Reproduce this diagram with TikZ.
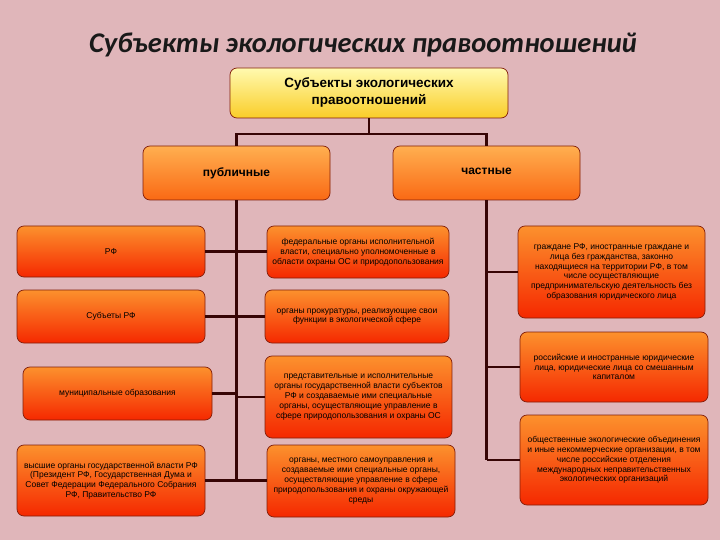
\documentclass[tikz,border=0pt]{standalone}
\usepackage{fontspec}
\setmainfont{Liberation Sans}
\newfontfamily\titlefont{Carlito}
\definecolor{bg}{RGB}{224,182,186}
\definecolor{lnc}{RGB}{55,5,5}
\definecolor{brd}{RGB}{130,30,10}
\definecolor{otop}{RGB}{252,145,45}
\definecolor{obot}{RGB}{245,40,0}
\definecolor{ptop}{RGB}{255,175,80}
\definecolor{pbot}{RGB}{250,105,20}
\definecolor{ytop}{RGB}{255,250,175}
\definecolor{ybot}{RGB}{250,205,40}
\tikzset{
  box/.style={draw=brd, line width=0.7pt, rounded corners=7pt, top color=otop, bottom color=obot,
    inner sep=0pt, align=center, font=\fontsize{8.5}{9.8}\selectfont, text=black},
  pbox/.style={box, top color=ptop, bottom color=pbot, font=\bfseries\fontsize{12}{15}\selectfont},
  ybox/.style={box, top color=ytop, bottom color=ybot, font=\bfseries\fontsize{13.5}{17}\selectfont},
  lnk/.style={draw=lnc, line width=2.2pt}
}
\begin{document}
\begin{tikzpicture}[x=1pt,y=-1pt]
\fill[bg] (0,0) rectangle (720,540);
\useasboundingbox (0,0) rectangle (720,540);
\node[font=\titlefont\bfseries\itshape\fontsize{28.5}{30}\selectfont, text=black!90] (title) at (363,45) {Субъекты экологических правоотношений};

\coordinate (hub) at (369,134);
\node[ybox, minimum width=278pt, minimum height=50pt] (top) at (369,93) {\raisebox{-2pt}{\begin{tabular}{@{}c@{}}Субъекты экологических\\правоотношений\end{tabular}}};
\node[pbox, minimum width=187pt, minimum height=54pt] (pub) at (236.5,173) {\raisebox{-2pt}{публичные}};
\node[pbox, minimum width=187pt, minimum height=54pt] (chast) at (486.5,173) {\raisebox{3pt}{частные}};

\node[box, minimum width=188pt, minimum height=51pt] (rf) at (111,251.5) {РФ};
\node[box, minimum width=188pt, minimum height=53pt] (subj) at (111,316.5) {Субъеты РФ};
\node[box, minimum width=189pt, minimum height=53pt] (mun) at (117.5,393.5) {муниципальные образования};
\node[box, minimum width=188pt, minimum height=71pt] (vys) at (111,480.5) {высшие органы государственной власти РФ\\(Президент РФ, Государственная Дума и\\Совет Федерации Федерального Собрания\\РФ, Правительство РФ};

\node[box, minimum width=182pt, minimum height=52pt] (fed) at (358,252) {федеральные органы исполнительной\\власти, специально уполномоченные в\\области охраны ОС и природопользования};
\node[box, minimum width=184pt, minimum height=53pt] (prok) at (357,316.5) {органы прокуратуры, реализующие свои\\функции в экологической сфере};
\node[box, minimum width=187pt, minimum height=82pt] (pred) at (358.5,397) {представительные и исполнительные\\органы государственной власти субъектов\\РФ и создаваемые ими специальные\\органы, осуществляющие управление в\\сфере природопользования и охраны ОС};
\node[box, minimum width=188pt, minimum height=72pt] (mest) at (361,481) {органы, местного самоуправления и\\создаваемые ими специальные органы,\\осуществляющие управление в сфере\\природопользования и охраны окружающей\\среды};

\node[box, minimum width=187pt, minimum height=92pt] (gr) at (611.5,272) {граждане РФ, иностранные граждане и\\лица без гражданства, законно\\находящиеся на территории РФ, в том\\числе осуществляющие\\предпринимательскую деятельность без\\образования юридического лица};
\node[box, minimum width=188pt, minimum height=70pt] (ross) at (614,367) {российские и иностранные юридические\\лица, юридические лица со смешанным\\капиталом};
\node[box, minimum width=188pt, minimum height=90pt] (obsh) at (614,460) {общественные экологические объединения\\и иные некоммерческие организации, в том\\числе российские отделения\\международных неправительственных\\экологических организаций};

\draw[lnk] (top.south) -- (hub);
\draw[lnk] (pub.north) |- (hub) -| (chast.north);
\draw[lnk] (pub.south) -- (pub.south |- vys.east);
\draw[lnk] (rf.east) -- (rf.east -| fed.west);
\draw[lnk] (subj.east) -- (subj.east -| prok.west);
\draw[lnk] (mun.east) -- (mun.east -| pub.south);
\draw[lnk] (pub.south |- pred.west) -- (pred.west);
\draw[lnk] (vys.east) -- (vys.east -| mest.west);
\draw[lnk] (chast.south) -- (chast.south |- obsh.west);
\draw[lnk] (chast.south |- gr.west) -- (gr.west);
\draw[lnk] (chast.south |- ross.west) -- (ross.west);
\draw[lnk] (chast.south |- obsh.west) -- (obsh.west);
\end{tikzpicture}
\end{document}
